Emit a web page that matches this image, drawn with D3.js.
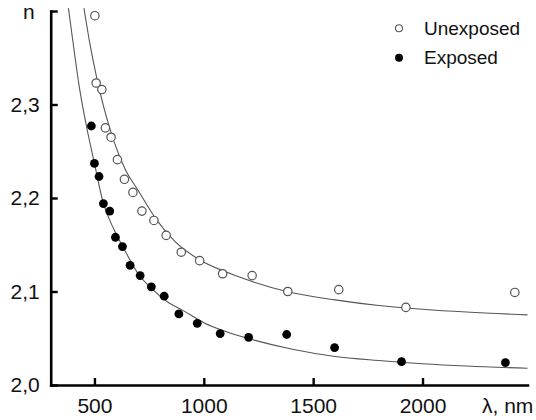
<!DOCTYPE html>
<html>
<head>
<meta charset="utf-8">
<script src="https://cdn.jsdelivr.net/npm/d3@7"></script>
<style>
  html, body { margin: 0; padding: 0; background: #fff; }
  svg { display: block; font-family: Arial, "Liberation Sans", sans-serif; }
</style>
</head>
<body>
<svg id="chart" width="536" height="420"></svg>
<script>
// ---- data ----
const unexposedLambda = [502, 508, 534, 550, 576, 605, 637, 676, 717, 772, 828, 897, 981, 1086, 1221, 1384, 1617, 1924, 2422];
const unexposedN      = [2.395, 2.323, 2.316, 2.275, 2.265, 2.241, 2.220, 2.206, 2.186, 2.176, 2.160, 2.142, 2.133, 2.119, 2.117, 2.100, 2.102, 2.083, 2.099];

const exposedLambda = [486, 500, 521, 541, 570, 596, 628, 663, 709, 760, 819, 886, 970, 1075, 1205, 1379, 1598, 1904, 2379];
const exposedN      = [2.277, 2.237, 2.223, 2.194, 2.186, 2.158, 2.148, 2.128, 2.117, 2.105, 2.095, 2.076, 2.066, 2.055, 2.051, 2.054, 2.040, 2.025, 2.024];

// fitted curves
const unexposedFitLambda = [452, 480, 510, 545, 590, 640, 700, 780, 870, 980, 1100, 1230, 1380, 1600, 1800, 2000, 2200, 2480];
const unexposedFitN      = [2.403, 2.364, 2.329, 2.295, 2.260, 2.231, 2.208, 2.178, 2.153, 2.134, 2.121, 2.110, 2.100, 2.091, 2.085, 2.081, 2.078, 2.075];

const exposedFitLambda = [381, 400, 430, 460, 500, 540, 590, 640, 700, 760, 830, 910, 1000, 1100, 1230, 1400, 1600, 1800, 2000, 2200, 2480];
const exposedFitN      = [2.403, 2.370, 2.320, 2.281, 2.237, 2.195, 2.166, 2.1435, 2.119, 2.1035, 2.0895, 2.079, 2.0667, 2.0572, 2.048, 2.0385, 2.0305, 2.0262, 2.0228, 2.0203, 2.0179];

const xTicks = [500, 1000, 1500, 2000];
const xTickLabels = ["500", "1000", "1500", "2000"];
const yTicks = [2.0, 2.1, 2.2, 2.3, 2.4];
const yTickLabels = ["2,0", "2,1", "2,2", "2,3", ""];
const seriesNames = ["Unexposed", "Exposed"];
const xAxisTitle = "λ, nm";
const yAxisTitle = "n";

// ---- layout ----
const svg = d3.select("#chart");
const x = d3.scaleLinear().domain([300, 2480]).range([50.7, 527.5]);
const y = d3.scaleLinear().domain([2.0, 2.4]).range([385, 11]);
const FONT = 21;

// curves
const line = d3.line().x(d => x(d[0])).y(d => y(d[1])).curve(d3.curveMonotoneX);
const fits = [
  d3.zip(unexposedFitLambda, unexposedFitN),
  d3.zip(exposedFitLambda, exposedFitN)
];
svg.selectAll("path.fit").data(fits).join("path")
  .attr("class", "fit")
  .attr("d", line)
  .attr("fill", "none")
  .attr("stroke", "#555")
  .attr("stroke-width", 1.1);

// points
svg.append("g").selectAll("circle")
  .data(d3.zip(unexposedLambda, unexposedN)).join("circle")
  .attr("cx", d => x(d[0])).attr("cy", d => y(d[1])).attr("r", 4.2)
  .attr("fill", "#fff").attr("stroke", "#555").attr("stroke-width", 1.2);

svg.append("g").selectAll("circle")
  .data(d3.zip(exposedLambda, exposedN)).join("circle")
  .attr("cx", d => x(d[0])).attr("cy", d => y(d[1])).attr("r", 4.4)
  .attr("fill", "#000");

// axes
const xAxis = d3.axisBottom(x).tickValues(xTicks)
  .tickFormat((d, i) => xTickLabels[i]).tickSizeInner(-7).tickSizeOuter(0).tickPadding(13);
const yAxis = d3.axisLeft(y).tickValues(yTicks)
  .tickFormat((d, i) => yTickLabels[i]).tickSizeInner(-7).tickSizeOuter(0).tickPadding(11);

const gx = svg.append("g").attr("transform", "translate(0,385)").call(xAxis);
const gy = svg.append("g").attr("transform", "translate(50.7,0)").call(yAxis);
[gx, gy].forEach(g => {
  g.select(".domain").attr("stroke", "#000").attr("stroke-width", 2.6).attr("stroke-linecap", "square");
  g.selectAll(".tick line").attr("stroke", "#000").attr("stroke-width", 2.4);
  g.selectAll("text").attr("font-size", FONT).attr("fill", "#111")
    .attr("font-family", "Arial, 'Liberation Sans', sans-serif");
});

// axis titles
svg.append("text").attr("x", 482).attr("y", 413)
  .attr("font-size", FONT).attr("fill", "#111").text(xAxisTitle);
svg.append("text").attr("x", 23).attr("y", 19)
  .attr("font-size", FONT).attr("fill", "#111").text(yAxisTitle);

// legend
const legend = svg.append("g");
legend.append("circle").attr("cx", 399).attr("cy", 28.3).attr("r", 3.5)
  .attr("fill", "#fff").attr("stroke", "#555").attr("stroke-width", 1.1);
legend.append("circle").attr("cx", 399).attr("cy", 57.7).attr("r", 4)
  .attr("fill", "#000");
legend.append("text").attr("x", 424).attr("y", 35).attr("font-size", 19)
  .attr("fill", "#111").text(seriesNames[0]);
legend.append("text").attr("x", 424).attr("y", 64).attr("font-size", 19)
  .attr("fill", "#111").text(seriesNames[1]);
</script>
</body>
</html>
